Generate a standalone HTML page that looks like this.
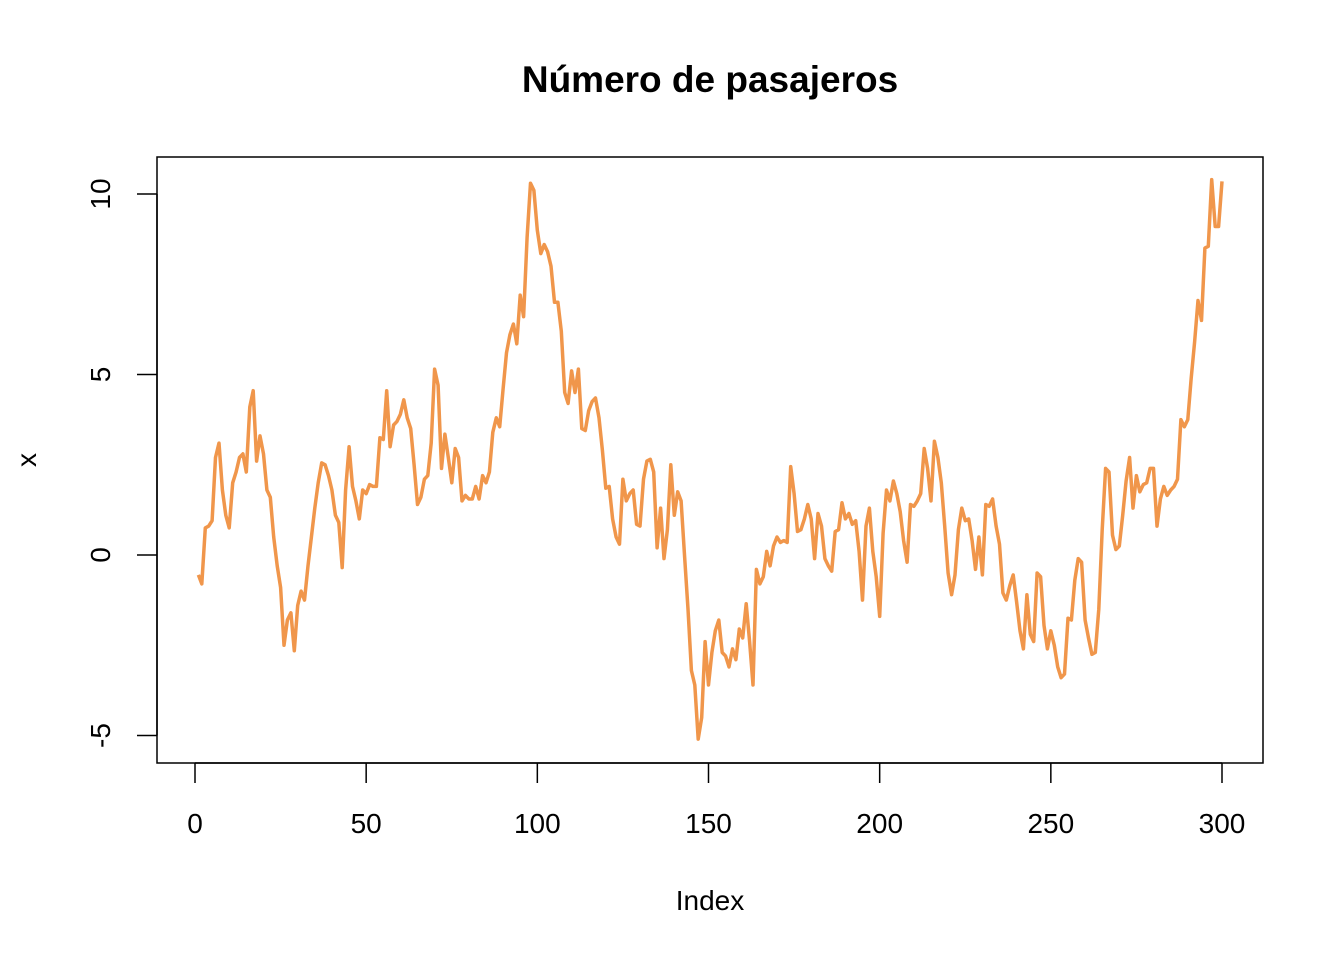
<!DOCTYPE html>
<html><head><meta charset="utf-8"><style>
body{margin:0;background:#fff;}
svg{display:block;font-family:"Liberation Sans",Arial,sans-serif;}
</style></head><body>
<svg id="chart" width="1344" height="960">
<text x="710" y="92" text-anchor="middle" font-size="37" font-weight="bold">Número de pasajeros</text>
<rect x="157" y="157" width="1106" height="606" fill="none" stroke="#000" stroke-width="1.5"/>
<g id="xaxis"></g>
<g id="yaxis"></g>
<text x="710" y="910" text-anchor="middle" font-size="28">Index</text>
<text transform="translate(36,460) rotate(-90)" text-anchor="middle" font-size="28">x</text>
<path id="line" fill="none" stroke="#F0964B" stroke-width="3.5" stroke-linejoin="round"/>
</svg>
<script>
const values = [-0.55,-0.8,0.75,0.8,0.95,2.7,3.1,1.8,1.1,0.75,2.0,2.3,2.7,2.8,2.3,4.1,4.55,2.6,3.3,2.8,
1.8,1.6,0.5,-0.3,-0.9,-2.5,-1.8,-1.6,-2.65,-1.4,-1.0,-1.25,-0.3,0.5,1.3,2.0,2.55,2.5,2.2,1.8,
1.1,0.9,-0.35,1.8,3.0,1.9,1.5,1.0,1.8,1.7,1.95,1.9,1.9,3.25,3.2,4.55,3.0,3.6,3.7,3.9,
4.3,3.8,3.5,2.5,1.4,1.6,2.1,2.2,3.1,5.15,4.7,2.4,3.35,2.7,2.0,2.95,2.7,1.5,1.65,1.55,
1.55,1.9,1.55,2.2,2.0,2.3,3.4,3.8,3.55,4.6,5.6,6.1,6.4,5.85,7.2,6.6,8.8,10.3,10.1,9.0,
8.35,8.6,8.4,8.0,7.0,7.0,6.2,4.5,4.2,5.1,4.5,5.15,3.5,3.45,4.0,4.25,4.35,3.8,2.9,1.85,
1.9,1.0,0.5,0.3,2.1,1.5,1.7,1.8,0.85,0.8,2.1,2.6,2.65,2.3,0.2,1.3,-0.1,0.7,2.5,1.1,
1.75,1.5,0,-1.5,-3.2,-3.6,-5.1,-4.5,-2.4,-3.6,-2.7,-2.1,-1.8,-2.7,-2.8,-3.1,-2.6,-2.9,-2.05,-2.3,
-1.35,-2.4,-3.6,-0.4,-0.8,-0.6,0.1,-0.3,0.25,0.5,0.35,0.4,0.35,2.45,1.7,0.65,0.7,1.0,1.4,1.0,
-0.1,1.15,0.8,-0.1,-0.3,-0.45,0.65,0.7,1.45,1.0,1.15,0.85,0.95,0.1,-1.25,0.8,1.3,0.1,-0.6,-1.7,
0.6,1.8,1.5,2.05,1.7,1.2,0.4,-0.2,1.4,1.35,1.5,1.7,2.95,2.4,1.5,3.15,2.7,2.0,0.8,-0.5,
-1.1,-0.55,0.7,1.3,0.95,1.0,0.4,-0.4,0.5,-0.55,1.4,1.35,1.55,0.8,0.3,-1.05,-1.25,-0.85,-0.55,-1.3,
-2.1,-2.6,-1.1,-2.2,-2.4,-0.5,-0.6,-1.95,-2.6,-2.1,-2.5,-3.1,-3.4,-3.3,-1.75,-1.8,-0.7,-0.1,-0.2,-1.8,
-2.3,-2.75,-2.7,-1.5,0.7,2.4,2.3,0.55,0.15,0.25,1.1,2.05,2.7,1.3,2.2,1.75,1.95,2.0,2.4,2.4,
0.8,1.55,1.9,1.65,1.8,1.9,2.1,3.75,3.55,3.75,4.9,5.9,7.05,6.5,8.5,8.55,10.4,9.1,9.1,10.35];
const xTicks = [0,50,100,150,200,250,300];
const yTicks = [-5,0,5,10];
const NS='http://www.w3.org/2000/svg';
const xs = v => 195 + v*(1222-195)/300;
const ys = v => 555 - v*36.1;
const xa=document.getElementById('xaxis'), ya=document.getElementById('yaxis');
function mk(tag,attrs,parent){const e=document.createElementNS(NS,tag);for(const k in attrs)e.setAttribute(k,attrs[k]);parent.appendChild(e);return e;}
mk('line',{x1:xs(xTicks[0]),x2:xs(xTicks[xTicks.length-1]),y1:763,y2:763,stroke:'#000','stroke-width':1.5},xa);
xTicks.forEach(t=>{
  const l=mk('line',{x1:xs(t),x2:xs(t),y1:763,y2:783,stroke:'#000','stroke-width':1.5},xa);
  
  
  const tx=mk('text',{x:xs(t),y:833,'text-anchor':'middle','font-size':28},xa);tx.textContent=t;
  
  
});
mk('line',{x1:157,x2:157,y1:ys(yTicks[0]),y2:ys(yTicks[yTicks.length-1]),stroke:'#000','stroke-width':1.5},ya);
yTicks.forEach(t=>{
  const l=mk('line',{x1:137,x2:157,y1:ys(t),y2:ys(t),stroke:'#000','stroke-width':1.5},ya);
  
  
  const tx=mk('text',{transform:`translate(110,${ys(t)}) rotate(-90)`,'text-anchor':'middle','font-size':28},ya);tx.textContent=t;
  
  
});
document.getElementById('line').setAttribute('d',values.map((v,i)=>(i?'L':'M')+xs(i+1).toFixed(1)+','+ys(v).toFixed(1)).join(''));
</script>
</body></html>
